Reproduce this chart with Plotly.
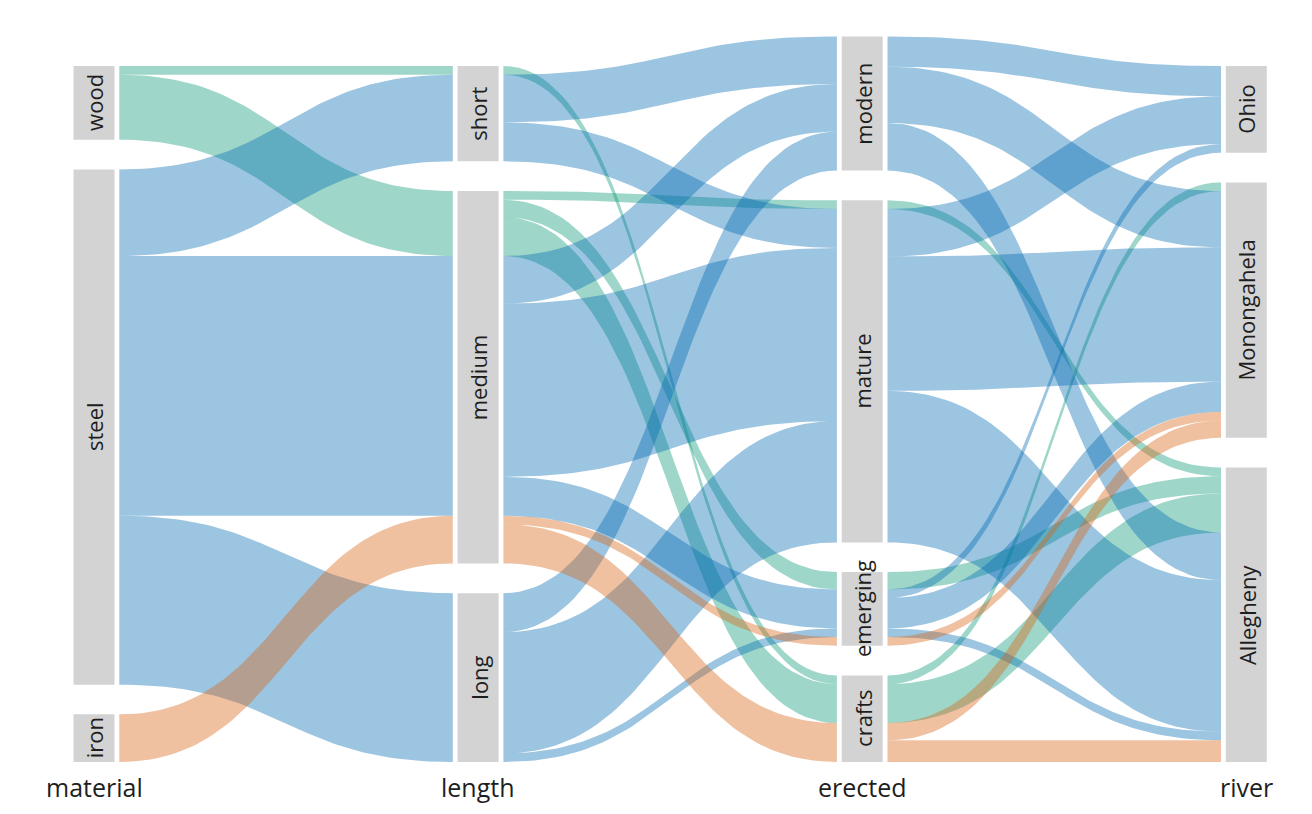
import plotly.graph_objects as go

# ---------------- data ----------------
materials = ["wood", "steel", "iron"]
lengths = ["short", "medium", "long"]
eras = ["modern", "mature", "emerging", "crafts"]
rivers = ["Ohio", "Monongahela", "Allegheny"]
axis_titles = ["material", "length", "erected", "river"]

# (material, length, count)
material_length = [
    ("wood", "short", 2), ("wood", "medium", 15),
    ("steel", "short", 20), ("steel", "medium", 60), ("steel", "long", 39),
    ("iron", "medium", 11),
]
# (material, length, erected, count)
length_erected = [
    ("wood", "short", "crafts", 2),
    ("wood", "medium", "mature", 2), ("wood", "medium", "emerging", 4), ("wood", "medium", "crafts", 9),
    ("steel", "short", "modern", 11), ("steel", "short", "mature", 9),
    ("steel", "medium", "modern", 11), ("steel", "medium", "mature", 40), ("steel", "medium", "emerging", 9),
    ("steel", "long", "modern", 9), ("steel", "long", "mature", 28), ("steel", "long", "emerging", 2),
    ("iron", "medium", "emerging", 2), ("iron", "medium", "crafts", 9),
]
# (material, erected, river, count)
erected_river = [
    ("wood", "mature", "Allegheny", 2),
    ("wood", "emerging", "Allegheny", 4),
    ("wood", "crafts", "Monongahela", 2), ("wood", "crafts", "Allegheny", 9),
    ("steel", "modern", "Ohio", 7), ("steel", "modern", "Monongahela", 13), ("steel", "modern", "Allegheny", 11),
    ("steel", "mature", "Ohio", 11), ("steel", "mature", "Monongahela", 31), ("steel", "mature", "Allegheny", 35),
    ("steel", "emerging", "Ohio", 2), ("steel", "emerging", "Monongahela", 7), ("steel", "emerging", "Allegheny", 2),
    ("iron", "emerging", "Monongahela", 2),
    ("iron", "crafts", "Monongahela", 4), ("iron", "crafts", "Allegheny", 5),
]

material_colors = {
    "wood": "rgba(0,150,112,0.38)",
    "steel": "rgba(0,106,178,0.39)",
    "iron": "rgba(218,100,20,0.40)",
}

# ---------------- layout constants ----------------
PAGE_OFF = 8                # page body margin
W, H = 1312 - 2 * PAGE_OFF, 814 - 2 * PAGE_OFF
PX_PER_UNIT = 4.33          # vertical pixels per bridge
BASE_PX = 762 - PAGE_OFF    # pixel row of the bottom of every axis
GAP = 29.7 / PX_PER_UNIT    # gap between categories (in bridge units)
X0_PX, DX_PX = 94.0 - PAGE_OFF, 384.1  # centre of first axis and spacing (pixels)
BAR_HALF = 20.5 / DX_PX
RIB_OFF = 25.3 / DX_PX
TEXT_COLOR = "#1e1e1e"

axes_cats = [materials, lengths, eras, rivers]

# stage flows as (material, source, target, value)
stages = [
    [(m, m, l, v) for m, l, v in material_length],
    [(m, l, e, v) for m, l, e, v in length_erected],
    [(m, e, r, v) for m, e, r, v in erected_river],
]

# category totals per axis
totals = []
t0 = {c: 0 for c in materials}
for m, s, t, v in stages[0]:
    t0[s] += v
totals.append(t0)
for i, st in enumerate(stages):
    d = {c: 0 for c in axes_cats[i + 1]}
    for m, s, t, v in st:
        d[t] += v
    totals.append(d)

# node positions (bottom-aligned stacks, first category on top)
nodes = []
for i, cats in enumerate(axes_cats):
    tot = sum(totals[i].values())
    top = tot + GAP * (len(cats) - 1)
    pos = {}
    for c in cats:
        pos[c] = (top - totals[i][c], top)
        top -= totals[i][c] + GAP
    nodes.append(pos)

mat_idx = {m: k for k, m in enumerate(materials)}


def bez(p0, p1, n=60):
    (x0, y0), (x1, y1) = p0, p1
    dx = x1 - x0
    cx0, cx1 = x0 + 0.5 * dx, x1 - 0.5 * dx
    xs, ys = [], []
    for k in range(n + 1):
        t = k / n
        a, b, c, d = (1 - t) ** 3, 3 * (1 - t) ** 2 * t, 3 * (1 - t) * t ** 2, t ** 3
        xs.append(a * x0 + b * cx0 + c * cx1 + d * x1)
        ys.append(a * y0 + b * y0 + c * y1 + d * y1)
    return xs, ys


fig = go.Figure()

for i, st in enumerate(stages):
    src_cats, dst_cats = axes_cats[i], axes_cats[i + 1]
    si = {c: k for k, c in enumerate(src_cats)}
    di = {c: k for k, c in enumerate(dst_cats)}
    left, right = {}, {}
    cur = {c: nodes[i][c][1] for c in src_cats}
    for j in sorted(range(len(st)), key=lambda j: (si[st[j][1]], mat_idx[st[j][0]], di[st[j][2]])):
        m, s, t, v = st[j]
        left[j] = (cur[s], cur[s] - v)
        cur[s] -= v
    cur = {c: nodes[i + 1][c][1] for c in dst_cats}
    for j in sorted(range(len(st)), key=lambda j: (di[st[j][2]], mat_idx[st[j][0]], si[st[j][1]])):
        m, s, t, v = st[j]
        right[j] = (cur[t], cur[t] - v)
        cur[t] -= v
    xa, xb = i + RIB_OFF, i + 1 - RIB_OFF
    for j, (m, s, t, v) in enumerate(st):
        tx, ty = bez((xa, left[j][0]), (xb, right[j][0]))
        bx, by = bez((xb, right[j][1]), (xa, left[j][1]))
        fig.add_trace(go.Scatter(
            x=tx + bx, y=ty + by, mode="lines", fill="toself",
            fillcolor=material_colors[m], line=dict(width=0, color="rgba(0,0,0,0)"),
            hoverinfo="skip", showlegend=False,
        ))

# grey category bars
bx_, by_, bb_ = [], [], []
for i, cats in enumerate(axes_cats):
    for c in cats:
        lo, hi = nodes[i][c]
        bx_.append(i)
        by_.append(hi - lo)
        bb_.append(lo)
fig.add_trace(go.Bar(x=bx_, y=by_, base=bb_, width=2 * BAR_HALF,
                     marker=dict(color="#d3d3d3", line=dict(width=0)),
                     hoverinfo="skip", showlegend=False))

annotations = []
for i, cats in enumerate(axes_cats):
    for c in cats:
        lo, hi = nodes[i][c]
        annotations.append(dict(x=i, y=(lo + hi) / 2, text=c, textangle=-90, showarrow=False,
                                xref="x", yref="y", xanchor="center", yanchor="middle",
                                font=dict(family="Open Sans", size=22, color=TEXT_COLOR)))
    annotations.append(dict(x=i, y=(BASE_PX - (787 - PAGE_OFF)) / PX_PER_UNIT, text=axis_titles[i],
                            showarrow=False, xref="x", yref="y", xanchor="center", yanchor="middle",
                            borderpad=0,
                            font=dict(family="Open Sans", size=25, color=TEXT_COLOR)))

fig.update_layout(
    width=W, height=H, margin=dict(l=0, r=0, t=0, b=0),
    paper_bgcolor="white", plot_bgcolor="white", barmode="overlay",
    showlegend=False, annotations=annotations,
    xaxis=dict(range=[-X0_PX / DX_PX, (W - X0_PX) / DX_PX], visible=False, fixedrange=True),
    yaxis=dict(range=[(BASE_PX - H) / PX_PER_UNIT, BASE_PX / PX_PER_UNIT], visible=False, fixedrange=True),
)

fig.write_html("out.html")
